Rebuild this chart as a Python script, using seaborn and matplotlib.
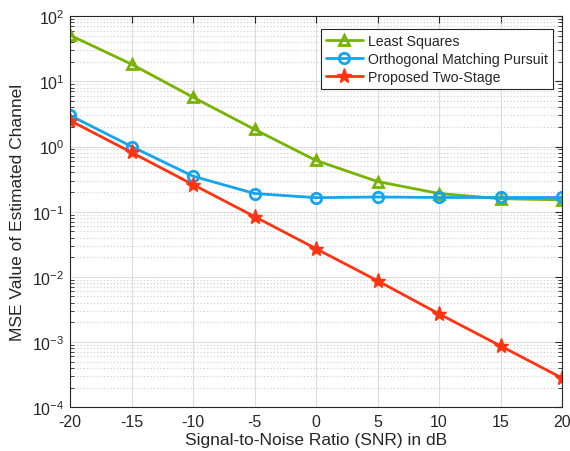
import numpy as np
import pandas as pd
import matplotlib
matplotlib.use("Agg")
import matplotlib.pyplot as plt
import seaborn as sns
from matplotlib.ticker import LogLocator, FixedLocator, NullFormatter

snr_db = [-20, -15, -10, -5, 0, 5, 10, 15, 20]
mse_ls = [51, 18.3, 5.7, 1.83, 0.61, 0.29, 0.19, 0.158, 0.152]
mse_omp = [3.0, 1.0, 0.35, 0.19, 0.164, 0.168, 0.165, 0.165, 0.165]
mse_two_stage = [2.5, 0.81, 0.26, 0.084, 0.027, 0.0087, 0.0027, 0.00087, 0.00028]

series_names = ["Least Squares", "Orthogonal Matching Pursuit", "Proposed Two-Stage"]
series_colors = ["#77B300", "#14A4F0", "#FF3311"]
series_markers = ["^", "o", "*"]

df = pd.DataFrame({
    "SNR": snr_db * 3,
    "MSE": mse_ls + mse_omp + mse_two_stage,
    "Method": [series_names[0]] * 9 + [series_names[1]] * 9 + [series_names[2]] * 9,
})

sns.set_style("white")
plt.rcParams["font.family"] = ["Liberation Sans", "DejaVu Sans"]
plt.rcParams["mathtext.fontset"] = "custom"
plt.rcParams["mathtext.rm"] = "Liberation Sans"
plt.rcParams["axes.unicode_minus"] = False

fig = plt.figure(figsize=(5.7, 4.52), dpi=100)
ax = fig.add_axes([0.123, 0.097, 0.863, 0.865])

for name, color, marker in zip(series_names, series_colors, series_markers):
    sub = df[df["Method"] == name]
    ms = 11 if marker == "*" else 7.5
    sns.lineplot(data=sub, x="SNR", y="MSE", ax=ax, color=color, linewidth=2,
                 marker=marker, markersize=ms, markerfacecolor=(color if marker == "*" else "none"),
                 markeredgecolor=color, markeredgewidth=(1 if marker == "*" else 2), label=name)

ax.set_yscale("log")
ax.set_xlim(-20, 20)
ax.set_ylim(1e-4, 1e2)
ax.xaxis.set_major_locator(FixedLocator(snr_db))
ax.yaxis.set_major_locator(LogLocator(base=10, numticks=10))
ax.yaxis.set_minor_locator(LogLocator(base=10, subs=np.arange(2, 10), numticks=10))
ax.yaxis.set_minor_formatter(NullFormatter())

ax.grid(True, which="major", color="#DDDDDD", linewidth=0.8, linestyle="-")
ax.grid(True, which="minor", axis="y", color="#CCCCCC", linewidth=0.8, linestyle=(0, (1, 2)))
ax.set_axisbelow(True)

for s in ax.spines.values():
    s.set_visible(True)
    s.set_color("#262626")
    s.set_linewidth(0.8)

ax.tick_params(axis="both", which="major", direction="in", length=5, width=0.8,
               top=True, right=True, labelsize=11.5, colors="#262626", pad=4)
ax.tick_params(axis="y", which="minor", direction="in", length=3, width=0.6, right=True, left=True)
ax.tick_params(axis="x", which="major", pad=5)

ax.set_xlabel("Signal-to-Noise Ratio (SNR) in dB", fontsize=12.5, color="#262626", labelpad=2)
ax.set_ylabel("MSE Value of Estimated Channel", fontsize=12.5, color="#262626", labelpad=5)

leg = ax.legend(loc="upper right", bbox_to_anchor=(0.982, 0.968), borderaxespad=0,
                fontsize=10.2, frameon=True, fancybox=False, edgecolor="#262626",
                framealpha=1, handlelength=2.6, borderpad=0.35, labelspacing=0.3,
                handletextpad=0.4)
leg.get_frame().set_linewidth(0.8)

fig.savefig("out.png", dpi=100)
